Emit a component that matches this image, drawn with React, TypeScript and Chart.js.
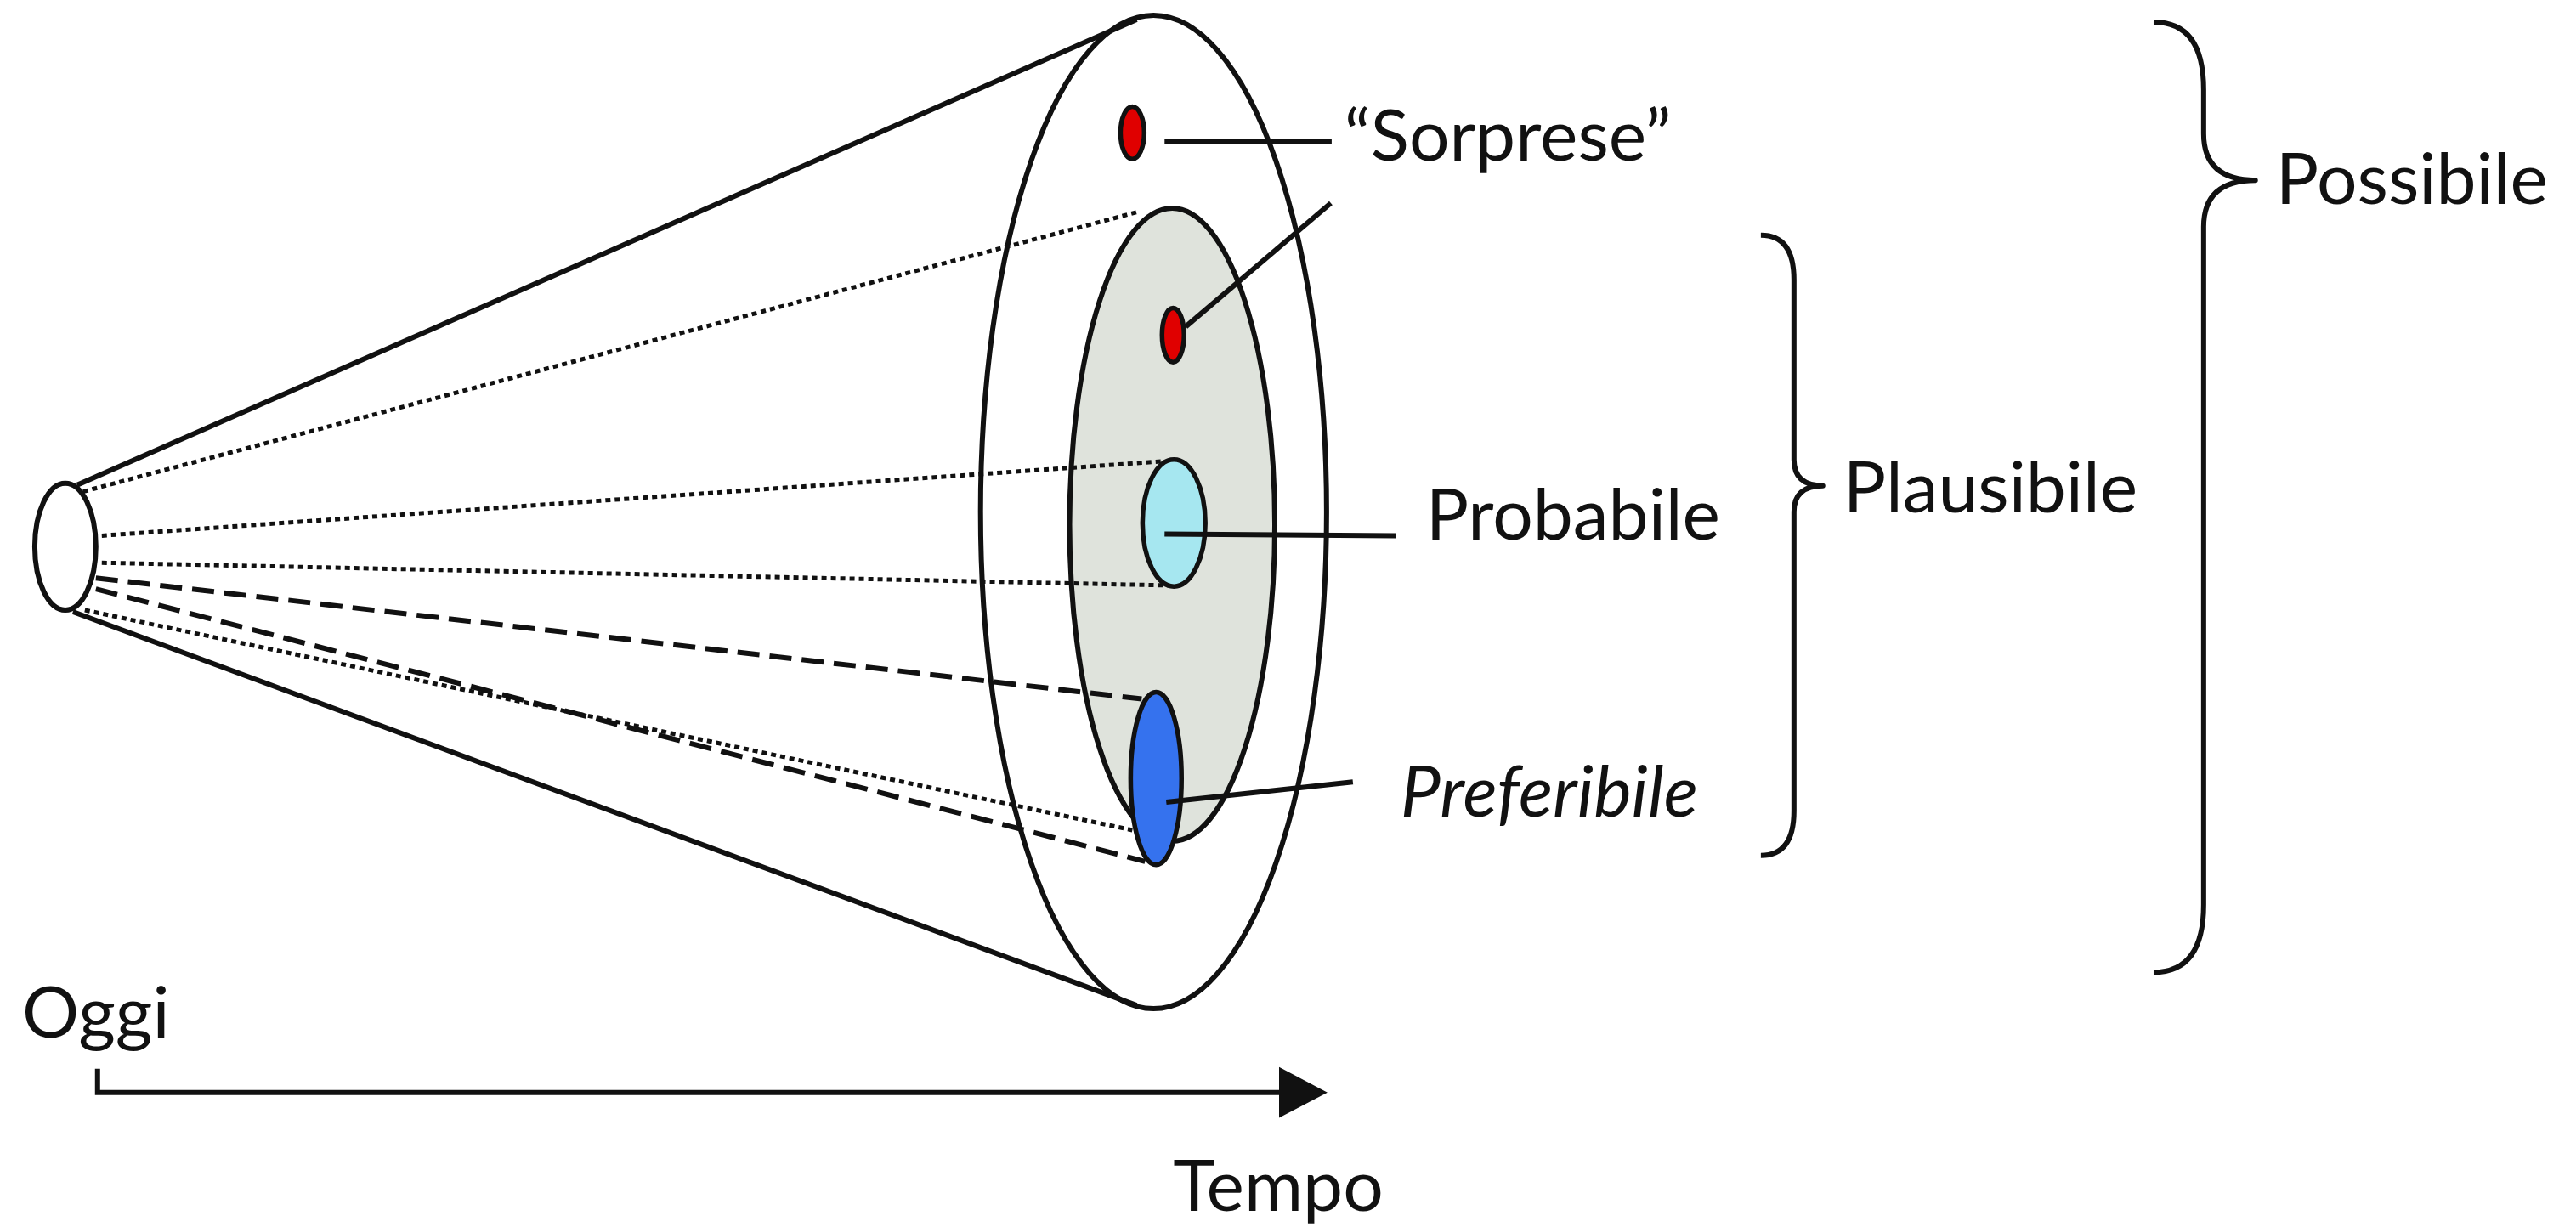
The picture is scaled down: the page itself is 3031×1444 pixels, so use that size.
import React, { useEffect, useRef } from "react";
import { Chart, registerables } from "chart.js";

Chart.register(...registerables);

// ---- Data (diagram units: x 0..3031 to the right, y 0..1444 downward) ----
const shapeNames = ["Oggi", "Possibile", "Plausibile", "Sorpresa esterna", "Sorpresa interna", "Probabile", "Preferibile"];
const shapeCenterX = [74, 1357, 1379, 1332, 1380, 1381, 1360];
const shapeCenterY = [643, 602, 617, 154, 393, 615, 917];
const shapeRadiusX = [36, 204, 121, 14, 13, 37, 30];
const shapeRadiusY = [75, 587, 374, 31, 32, 75, 102];
const shapeFill = ["#ffffff", "#ffffff", "#dfe3dc", "#e00000", "#e00000", "#a6e7f0", "#3572ee"];
const shapeLayer = ["back", "back", "back", "front", "front", "front", "front"];

// cone outline (solid)
const coneUpperX = [88, 1337];
const coneUpperY = [570, 20];
const coneLowerX = [83, 1337];
const coneLowerY = [720, 1185];

// projection lines (dotted)
const dottedTopX = [95, 1340];
const dottedTopY = [578, 247];
const dottedProbTopX = [117, 1370];
const dottedProbTopY = [630, 542];
const dottedProbBottomX = [117, 1383];
const dottedProbBottomY = [662, 689];
const dottedPrefX = [97, 1332];
const dottedPrefY = [718, 978];

// projection lines (dashed)
const dashedPrefTopX = [110, 1343];
const dashedPrefTopY = [680, 823];
const dashedPrefBottomX = [110, 1347];
const dashedPrefBottomY = [693, 1015];

// leader lines
const leaderSorp1X = [1370, 1567];
const leaderSorp1Y = [164, 164];
const leaderSorp2X = [1395, 1566];
const leaderSorp2Y = [383, 237];
const leaderProbX = [1370, 1643];
const leaderProbY = [628, 630];
const leaderPrefX = [1372, 1592];
const leaderPrefY = [945, 921];

// time axis arrow
const timeArrowX = [112, 112, 1510];
const timeArrowY = [1260, 1288, 1288];
const arrowHeadX = [1505, 1505, 1562];
const arrowHeadY = [1258, 1318, 1288];

// braces
const braceNames = ["Plausibile", "Possibile"];
const braceTipX = [2073, 2536];
const braceSpineX = [2112, 2595];
const bracePointX = [2146, 2656];
const braceTop = [275, 23];
const braceMid = [571, 210];
const braceBottom = [1008, 1146];

// labels
const labelTexts = ["Oggi", "Tempo", "\u201CSorprese\u201D", "Probabile", "Preferibile", "Plausibile", "Possibile"];
const labelX = [23, 1380, 1582, 1678, 1648, 2170, 2680];
const labelY = [1223, 1428, 187, 635, 962, 603, 238];
const labelItalic = [false, false, false, false, true, false, false];

const INK = "#111111";
const FONT = "Lato, 'Open Sans', sans-serif";

const pts = (xs: number[], ys: number[]) => xs.map((x, i) => ({ x, y: ys[i] }));

function App() {
  const canvasRef = useRef<HTMLCanvasElement | null>(null);

  useEffect(() => {
    document.body.style.margin = "0";
    const canvas = canvasRef.current;
    if (!canvas) return;

    const drawEllipses = (chart: any, layer: string) => {
      const ctx = chart.ctx;
      const xs = chart.scales.x;
      const ys = chart.scales.y;
      ctx.save();
      for (let i = 0; i < shapeNames.length; i++) {
        if (shapeLayer[i] !== layer) continue;
        const cx = xs.getPixelForValue(shapeCenterX[i]);
        const cy = ys.getPixelForValue(shapeCenterY[i]);
        const rx = Math.abs(xs.getPixelForValue(shapeCenterX[i] + shapeRadiusX[i]) - cx);
        const ry = Math.abs(ys.getPixelForValue(shapeCenterY[i] + shapeRadiusY[i]) - cy);
        ctx.beginPath();
        ctx.ellipse(cx, cy, rx, ry, 0, 0, Math.PI * 2);
        ctx.fillStyle = shapeFill[i];
        ctx.fill();
        ctx.lineWidth = layer === "back" ? 6 : 5.5;
        ctx.strokeStyle = INK;
        ctx.stroke();
      }
      ctx.restore();
    };

    const diagramPlugin = {
      id: "diagram",
      beforeDatasetsDraw(chart: any) {
        chart.$frontDone = false;
        drawEllipses(chart, "back");
      },
      beforeDatasetDraw(chart: any, args: any) {
        const ds: any = chart.data.datasets[args.index];
        if (ds.frontEllipses && !chart.$frontDone) {
          drawEllipses(chart, "front");
          chart.$frontDone = true;
        }
      },
      afterDatasetsDraw(chart: any) {
        if (!chart.$frontDone) {
          drawEllipses(chart, "front");
          chart.$frontDone = true;
        }
        const ctx = chart.ctx;
        const xs = chart.scales.x;
        const ys = chart.scales.y;
        const X = (v: number) => xs.getPixelForValue(v);
        const Y = (v: number) => ys.getPixelForValue(v);
        ctx.save();
        // arrow head
        ctx.beginPath();
        ctx.moveTo(X(arrowHeadX[0]), Y(arrowHeadY[0]));
        for (let i = 1; i < arrowHeadX.length; i++) ctx.lineTo(X(arrowHeadX[i]), Y(arrowHeadY[i]));
        ctx.closePath();
        ctx.fillStyle = INK;
        ctx.fill();
        // braces
        ctx.strokeStyle = INK;
        ctx.lineWidth = 6;
        ctx.lineJoin = "round";
        for (let b = 0; b < braceNames.length; b++) {
          const tip = X(braceTipX[b]);
          const sp = X(braceSpineX[b]);
          const pt = X(bracePointX[b]);
          const top = Y(braceTop[b]);
          const mid = Y(braceMid[b]);
          const bot = Y(braceBottom[b]);
          const r = (sp - tip) * 1.35;
          const rm = (pt - sp) * 0.9;
          ctx.beginPath();
          ctx.moveTo(tip, top);
          ctx.quadraticCurveTo(sp, top, sp, top + r);
          ctx.lineTo(sp, mid - rm);
          ctx.quadraticCurveTo(sp, mid, pt, mid);
          ctx.quadraticCurveTo(sp, mid, sp, mid + rm);
          ctx.lineTo(sp, bot - r);
          ctx.quadraticCurveTo(sp, bot, tip, bot);
          ctx.stroke();
        }
        // labels
        ctx.fillStyle = INK;
        ctx.textAlign = "left";
        ctx.textBaseline = "alphabetic";
        for (let i = 0; i < labelTexts.length; i++) {
          ctx.font = `${labelItalic[i] ? "italic " : ""}84px ${FONT}`;
          ctx.fillText(labelTexts[i], X(labelX[i]), Y(labelY[i]));
        }
        ctx.restore();
      },
    };

    const solid = (data: any[], extra: any = {}) => ({
      type: "line" as const,
      data,
      borderColor: INK,
      borderWidth: 6,
      pointRadius: 0,
      fill: false,
      tension: 0,
      borderCapStyle: "butt" as const,
      ...extra,
    });
    const dotted = (data: any[]) => solid(data, { borderWidth: 5, borderDash: [6, 5] });
    const dashed = (data: any[]) => solid(data, { borderWidth: 6, borderDash: [26, 12] });

    const chart = new Chart(canvas, {
      type: "scatter",
      data: {
        datasets: [
          solid(pts(leaderSorp1X, leaderSorp1Y), { frontEllipses: true, label: "Sorprese 1" }),
          solid(pts(leaderSorp2X, leaderSorp2Y), { frontEllipses: true, label: "Sorprese 2" }),
          solid(pts(leaderProbX, leaderProbY), { frontEllipses: true, label: "Probabile" }),
          solid(pts(leaderPrefX, leaderPrefY), { frontEllipses: true, label: "Preferibile" }),
          solid(pts(timeArrowX, timeArrowY), { borderWidth: 6, borderJoinStyle: "miter", label: "Tempo" }),
          dotted(pts(dottedTopX, dottedTopY)),
          dotted(pts(dottedProbTopX, dottedProbTopY)),
          dotted(pts(dottedProbBottomX, dottedProbBottomY)),
          dotted(pts(dottedPrefX, dottedPrefY)),
          dashed(pts(dashedPrefTopX, dashedPrefTopY)),
          dashed(pts(dashedPrefBottomX, dashedPrefBottomY)),
          solid(pts(coneUpperX, coneUpperY), { label: "cono sup" }),
          solid(pts(coneLowerX, coneLowerY), { label: "cono inf" }),
        ] as any,
      },
      options: {
        animation: false,
        responsive: false,
        maintainAspectRatio: false,
        devicePixelRatio: 1,
        layout: { padding: 0 },
        showLine: true,
        events: [],
        scales: {
          x: { type: "linear", min: 0, max: 3031, display: false },
          y: { type: "linear", min: 0, max: 1444, reverse: true, display: false },
        },
        plugins: {
          legend: { display: false },
          tooltip: { enabled: false },
          title: { display: false },
        },
        elements: { point: { radius: 0 } },
      } as any,
      plugins: [diagramPlugin],
    });

    if ((document as any).fonts && (document as any).fonts.load) {
      Promise.all([
        (document as any).fonts.load(`84px Lato`),
        (document as any).fonts.load(`italic 84px Lato`),
      ]).then(() => chart.update()).catch(() => {});
    }

    return () => {
      chart.destroy();
    };
  }, []);

  return (
    <div style={{ width: 3031, height: 1444, background: "#ffffff" }}>
      <canvas ref={canvasRef} width={3031} height={1444} style={{ width: 3031, height: 1444, display: "block" }} />
    </div>
  );
}

export default App;
